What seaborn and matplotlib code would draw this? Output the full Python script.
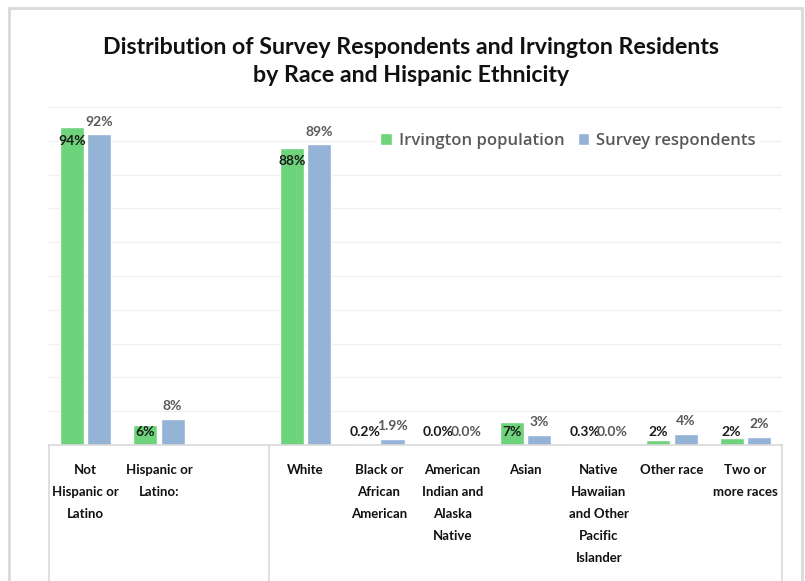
import seaborn as sns
import matplotlib.pyplot as plt
import matplotlib.transforms as mtransforms
import pandas as pd

# Categories (empty slot separates ethnicity group from race group)
categories = ["Not Hispanic or Latino", "Hispanic or Latino:", "",
              "White", "Black or African American",
              "American Indian and Alaska Native", "Asian",
              "Native Hawaiian and Other Pacific Islander",
              "Other race", "Two or more races"]
tick_labels = ["Not\nHispanic or\nLatino", "Hispanic or\nLatino:", "",
               "White", "Black or\nAfrican\nAmerican",
               "American\nIndian and\nAlaska\nNative", "Asian",
               "Native\nHawaiian\nand Other\nPacific\nIslander",
               "Other race", "Two or\nmore races"]

series = ["Irvington population", "Survey respondents"]
population = [94, 5.9, None, 88, 0.2, 0.0, 6.9, 0.3, 1.6, 2.0]
respondents = [92, 7.7, None, 89, 1.9, 0.0, 3.0, 0.0, 3.4, 2.4]
population_text = ["94%", "6%", "", "88%", "0.2%", "0.0%", "7%", "0.3%", "2%", "2%"]
respondents_text = ["92%", "8%", "", "89%", "1.9%", "0.0%", "3%", "0.0%", "4%", "2%"]

rows = []
for cat, p, r in zip(categories, population, respondents):
    if p is not None:
        rows.append({"category": cat, "series": series[0], "value": p})
        rows.append({"category": cat, "series": series[1], "value": r})
df = pd.DataFrame(rows)

GREEN = "#6ED47C"
BLUE = "#95B3D7"

sns.set_style("white")
plt.rcParams['font.family'] = ['Lato', 'DejaVu Sans']

fig = plt.figure(figsize=(8.05, 5.81), dpi=100)
ax = fig.add_axes([49 / 805, 1 - 445 / 581, 733 / 805, 338 / 581])

sns.barplot(data=df, x="category", y="value", hue="series", order=categories,
            hue_order=series, palette=[GREEN, BLUE], saturation=1,
            width=0.745, gap=0.12, ax=ax, legend=True)

ax.set_xlim(-0.5, len(categories) - 0.5)
ax.set_ylim(0, 100)
ax.set_yticks(range(0, 101, 10))
ax.set_yticklabels([])
ax.tick_params(axis="y", length=0)
ax.grid(axis="y", color="#F0F0F0", linewidth=1)
ax.set_axisbelow(True)
ax.set_xlabel("")
ax.set_ylabel("")
for side in ["top", "right", "left"]:
    ax.spines[side].set_visible(False)
ax.spines["bottom"].set_color("#D9D9D9")
ax.spines["bottom"].set_linewidth(1.2)

# category labels drawn as text so they keep the bold face
ax.set_xticks(range(len(categories)))
ax.set_xticklabels([])
ax.tick_params(axis="x", length=0)
trans = mtransforms.blended_transform_factory(ax.transData, ax.transAxes)
for i, lab in enumerate(tick_labels):
    ax.text(i, -19 / 338, lab, transform=trans, ha="center", va="top",
            fontsize=9.5, fontweight="bold", color="#111111",
            linespacing=2.0, multialignment="center", clip_on=False)

# table-like separators below the axis
for xv in [-0.5, 2.5, len(categories) - 0.5]:
    ax.plot([xv, xv], [0, -0.5], transform=trans, color="#D9D9D9",
            linewidth=1.2, clip_on=False)

# data labels
for container, texts, kind in zip(ax.containers, [population_text, respondents_text], ["in", "out"]):
    for bar in container:
        xc = bar.get_x() + bar.get_width() / 2
        idx = int(round(xc))
        h = bar.get_height()
        if kind == "in":
            ax.text(xc, max(h - 4.1, 3.8), texts[idx], ha="center", va="center",
                    fontsize=10, fontweight="bold", color="#1A1A1A")
        else:
            ax.text(xc, h + 3.7, texts[idx], ha="center", va="center",
                    fontsize=10, fontweight="bold", color="#595959")

handles, labels = ax.get_legend_handles_labels()
leg = ax.legend(handles, labels, loc="center", bbox_to_anchor=(0.708, 0.899),
                ncol=2, frameon=True, facecolor="white", edgecolor="white",
                framealpha=1, handlelength=0.7, handleheight=0.7,
                handletextpad=0.4, columnspacing=0.8, borderpad=0.2,
                prop={"family": "Open Sans", "size": 12, "weight": "semibold"})
for t in leg.get_texts():
    t.set_color("#595959")

fig.text(411 / 805, 1 - 48 / 581, "Distribution of Survey Respondents and Irvington Residents",
         ha="center", va="center", fontsize=16.7, fontweight="bold", color="#111111")
fig.text(411 / 805, 1 - 75 / 581, "by Race and Hispanic Ethnicity",
         ha="center", va="center", fontsize=16.7, fontweight="bold", color="#111111")

# chart area border
W, H = 805, 581
for (x0, y0, x1, y1) in [(9, 8, 9, 600), (9, 8, 802, 8), (802, 8, 802, 600)]:
    fig.add_artist(plt.Line2D([x0 / W, x1 / W], [1 - y0 / H, 1 - y1 / H],
                              transform=fig.transFigure, color="#D9D9D9", linewidth=2))

fig.savefig("out.png", dpi=100)
